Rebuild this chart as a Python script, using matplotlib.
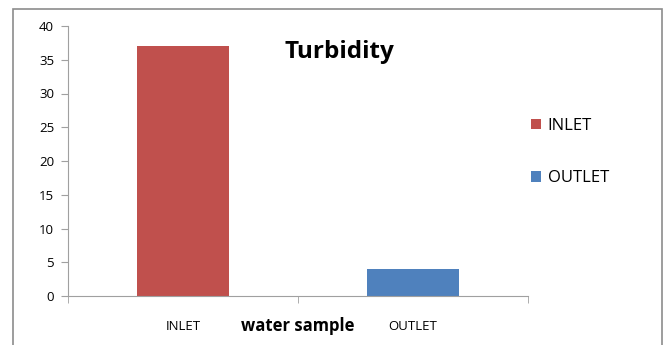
import matplotlib
matplotlib.use("Agg")
import matplotlib.pyplot as plt
from matplotlib.patches import Rectangle, Patch

# データ
categories = ["INLET", "OUTLET"]
values = [37, 4]
colors = ["#C0504D", "#4F81BD"]
yticks = [0, 5, 10, 15, 20, 25, 30, 35, 40]

plt.rcParams['font.family'] = ['Open Sans', 'DejaVu Sans']

def main():
    fig = plt.figure(figsize=(6.67, 3.45), dpi=100)
    ax = fig.add_axes([68 / 667, 1 - 296 / 345, 460 / 667, 270 / 345])

    # 外枠
    fig.patches.append(Rectangle((13 / 667, -0.1), 649 / 667, 1.1 - 9 / 345,
                                 transform=fig.transFigure, fill=False,
                                 edgecolor="#8c8c8c", linewidth=1.2))

    x = list(range(len(categories)))
    ax.bar(x, values, width=0.4, color=colors)

    ax.set_xlim(-0.5, len(categories) - 0.5)
    ax.set_ylim(0, 40)
    ax.set_yticks(yticks)
    ax.set_xticks(x)
    ax.set_xticklabels(categories, fontsize=9.5)
    ax.set_xticks([-0.5, 0.5, 1.5], minor=True)
    ax.tick_params(axis="x", which="major", length=0, pad=17)
    ax.tick_params(axis="x", which="minor", length=5, color="#a0a0a0", direction="out")
    ax.tick_params(axis="y", length=5, color="#a0a0a0", labelsize=9.5, pad=5)

    for s in ["top", "right"]:
        ax.spines[s].set_visible(False)
    for s in ["left", "bottom"]:
        ax.spines[s].set_color("#a0a0a0")

    ax.set_xlabel("water sample", fontsize=12, fontweight="bold", labelpad=-11)
    ax.text(0.59, 0.905, "Turbidity", transform=ax.transAxes, ha="center", va="center",
            fontsize=17.5, fontweight="bold")

    handles = [Patch(facecolor=c, label=l) for c, l in zip(colors, categories)]
    fig.legend(handles=handles, loc="center left", bbox_to_anchor=(516 / 667, 1 - 152 / 345),
               frameon=False, fontsize=12, handlelength=0.6, handleheight=0.6,
               handletextpad=0.4, labelspacing=2.2)

    fig.savefig("out.png", dpi=100)

if __name__ == "__main__":
    main()
